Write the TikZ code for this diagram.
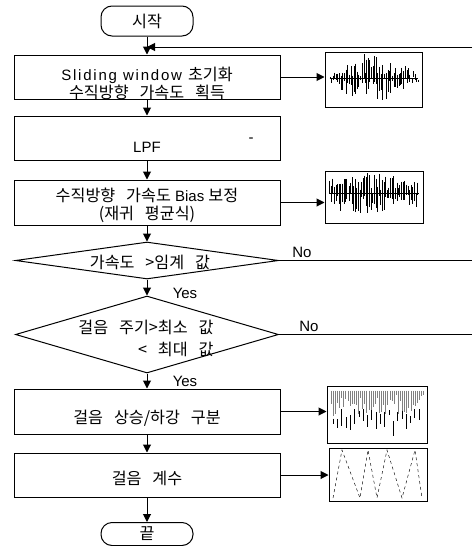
\documentclass[tikz,border=0pt]{standalone}
\usepackage{fontspec}
\setmainfont{Liberation Sans}
\newfontfamily\kr[Scale=1.08,WordSpace=3]{Noto Sans CJK KR}
\newcommand\hg[1]{{\kr #1}}
\usetikzlibrary{arrows.meta,shapes.geometric}

\begin{document}
\begin{tikzpicture}[x=1pt,y=-1pt,line width=1pt,
    every node/.style={font=\fontsize{15}{18}\selectfont,inner sep=0pt},
    term/.style={draw,rounded corners=11pt,minimum width=92pt},
    proc/.style={draw,minimum width=266pt,minimum height=44pt},
    cond/.style={draw,diamond,minimum width=263pt},
    thumb/.style={draw,minimum width=97pt,minimum height=55pt},
    arr/.style={-{Triangle[length=8pt,width=8pt]}},
    wave/.style={line width=0.45pt}]
  \useasboundingbox (0,0) rectangle (472,546);

  \node[term,minimum height=30pt] (s) at (147,21) {\hg{시작}};
  \coordinate (j) at (147,47);
  \coordinate (r0) at (472,47);
  \node[proc] (b1) at (147,77) {};
  \node[align=center] (t1) at (147,83) {\addfontfeatures{LetterSpace=12}Sliding window \hg{초기화}\\\hg{수직방향 가속도 획득}};
  \node[proc] (b2) at (147,138) {};
  \node (t2) at (147,147) {LPF};
  \node (t2m) at (251,140) {-};
  \node[proc,minimum height=45pt] (b3) at (147,202.5) {};
  \node[align=center] (t3) at (147,205) {\hg{수직방향 가속도} Bias \hg{보정}\\\hg{(재귀 평균식)}};
  \node[cond,minimum height=37pt] (d1) at (147,260.5) {};
  \node (t4) at (150,262) {\hg{가속도 >임계 값}};
  \coordinate (r1) at (472,260.5);
  \node[cond,minimum height=77pt] (d2) at (147,334.5) {};
  \node[align=right] (t5) at (146,338) {\hg{걸음 주기>최소 값}\\[4pt]\hg{< 최대 값}};
  \coordinate (r2) at (472,334.5);
  \node[proc,minimum height=45pt] (b4) at (147,411.5) {};
  \node (t6) at (147,418) {\hg{걸음 상승/하강 구분}};
  \node[proc] (b5) at (147,475) {};
  \node (t7) at (147,478) {\hg{걸음 계수}};
  \node[term,minimum height=23pt] (e) at (147,534) {\hg{끝}};

  \node (no1) at (302,252) {No};
  \node (no2) at (309,326) {No};
  \node (yes1) at (185,293) {Yes};
  \node (yes2) at (185,381) {Yes};

  \node[thumb] (w1) at (373.5,80) {};
  \node[thumb,minimum width=98pt,minimum height=52pt] (w3) at (374,197) {};
  \node[thumb,minimum width=100pt,minimum height=57pt] (w4) at (377,414.5) {};
  \node[thumb,minimum width=98pt,minimum height=53pt] (w5) at (378,474.5) {};

  \draw (s) -- (j);
  \draw[arr] (j) -- (b1);
  \draw[arr] (r0) -- (j);
  \draw[arr] (b1) -- (b2);
  \draw[arr] (b2) -- (b3);
  \draw[arr] (b3) -- (d1);
  \draw[arr] (d1) -- (d2);
  \draw (d1.east) -- (r1);
  \draw[arr] (d2) -- (b4);
  \draw (d2.east) -- (r2);
  \draw[arr] (b4) -- (b5);
  \draw[arr] (b5) -- (e);

  \draw[arr] (b1) -- (b1 -| w1.west);
  \draw[arr] (b3) -- (b3 -| w3.west);
  \draw[arr] (b4) -- (b4 -| w4.west);
  \draw[arr] (b5) -- (b5 -| w5.west);

  \pgfmathsetseed{7}
  \begin{scope}[shift={(w1.center)}]
    \draw[wave] (-44,-2) -- (44,-2);
    \foreach \i in {0,...,55} {
      \pgfmathsetmacro\xx{-44+1.6*\i+0.8*rnd}
      \pgfmathsetmacro\ee{sin(180*\i/55)}
      \pgfmathsetmacro\up{1+22*\ee*rnd}
      \pgfmathsetmacro\dn{1+24*\ee*rnd}
      \pgfmathsetmacro\cc{-2+6*(rnd-0.5)}
      \draw[wave] (\xx,\cc-\up) -- (\xx,\cc+\dn);
    }
  \end{scope}
  \begin{scope}[shift={(w3.center)}]
    \draw[wave] (-45,-4) -- (45,-4);
    \foreach \i in {0,...,55} {
      \pgfmathsetmacro\xx{-45+1.6*\i+0.8*rnd}
      \pgfmathsetmacro\ee{0.5+0.5*sin(180*\i/55)}
      \pgfmathsetmacro\up{2+18*\ee*rnd}
      \pgfmathsetmacro\dn{2+20*\ee*rnd}
      \pgfmathsetmacro\cc{-4+6*(rnd-0.5)}
      \draw[wave] (\xx,\cc-\up) -- (\xx,\cc+\dn);
    }
  \end{scope}
  \begin{scope}[shift={(w4.center)}]
    \foreach \i in {0,...,44} {
      \pgfmathsetmacro\xx{-46+2.1*\i}
      \pgfmathsetmacro\ll{4+22*rnd}
      \draw[wave,gray] (\xx,-24) -- (\xx,-24+\ll);
    }
    \foreach \i in {0,...,20} {
      \pgfmathsetmacro\xx{-44+4.3*\i}
      \pgfmathsetmacro\tp{-6+14*rnd}
      \pgfmathsetmacro\ll{4+14*rnd}
      \draw[wave] (\xx,\tp) -- (\xx,\tp+\ll);
    }
  \end{scope}
  \draw[wave,dashed] (333,498) -- (342,450) -- (360,498) -- (368,450) -- (377,498)
    -- (387,450) -- (402,498) -- (415,450) -- (422,498);
\end{tikzpicture}
\end{document}
